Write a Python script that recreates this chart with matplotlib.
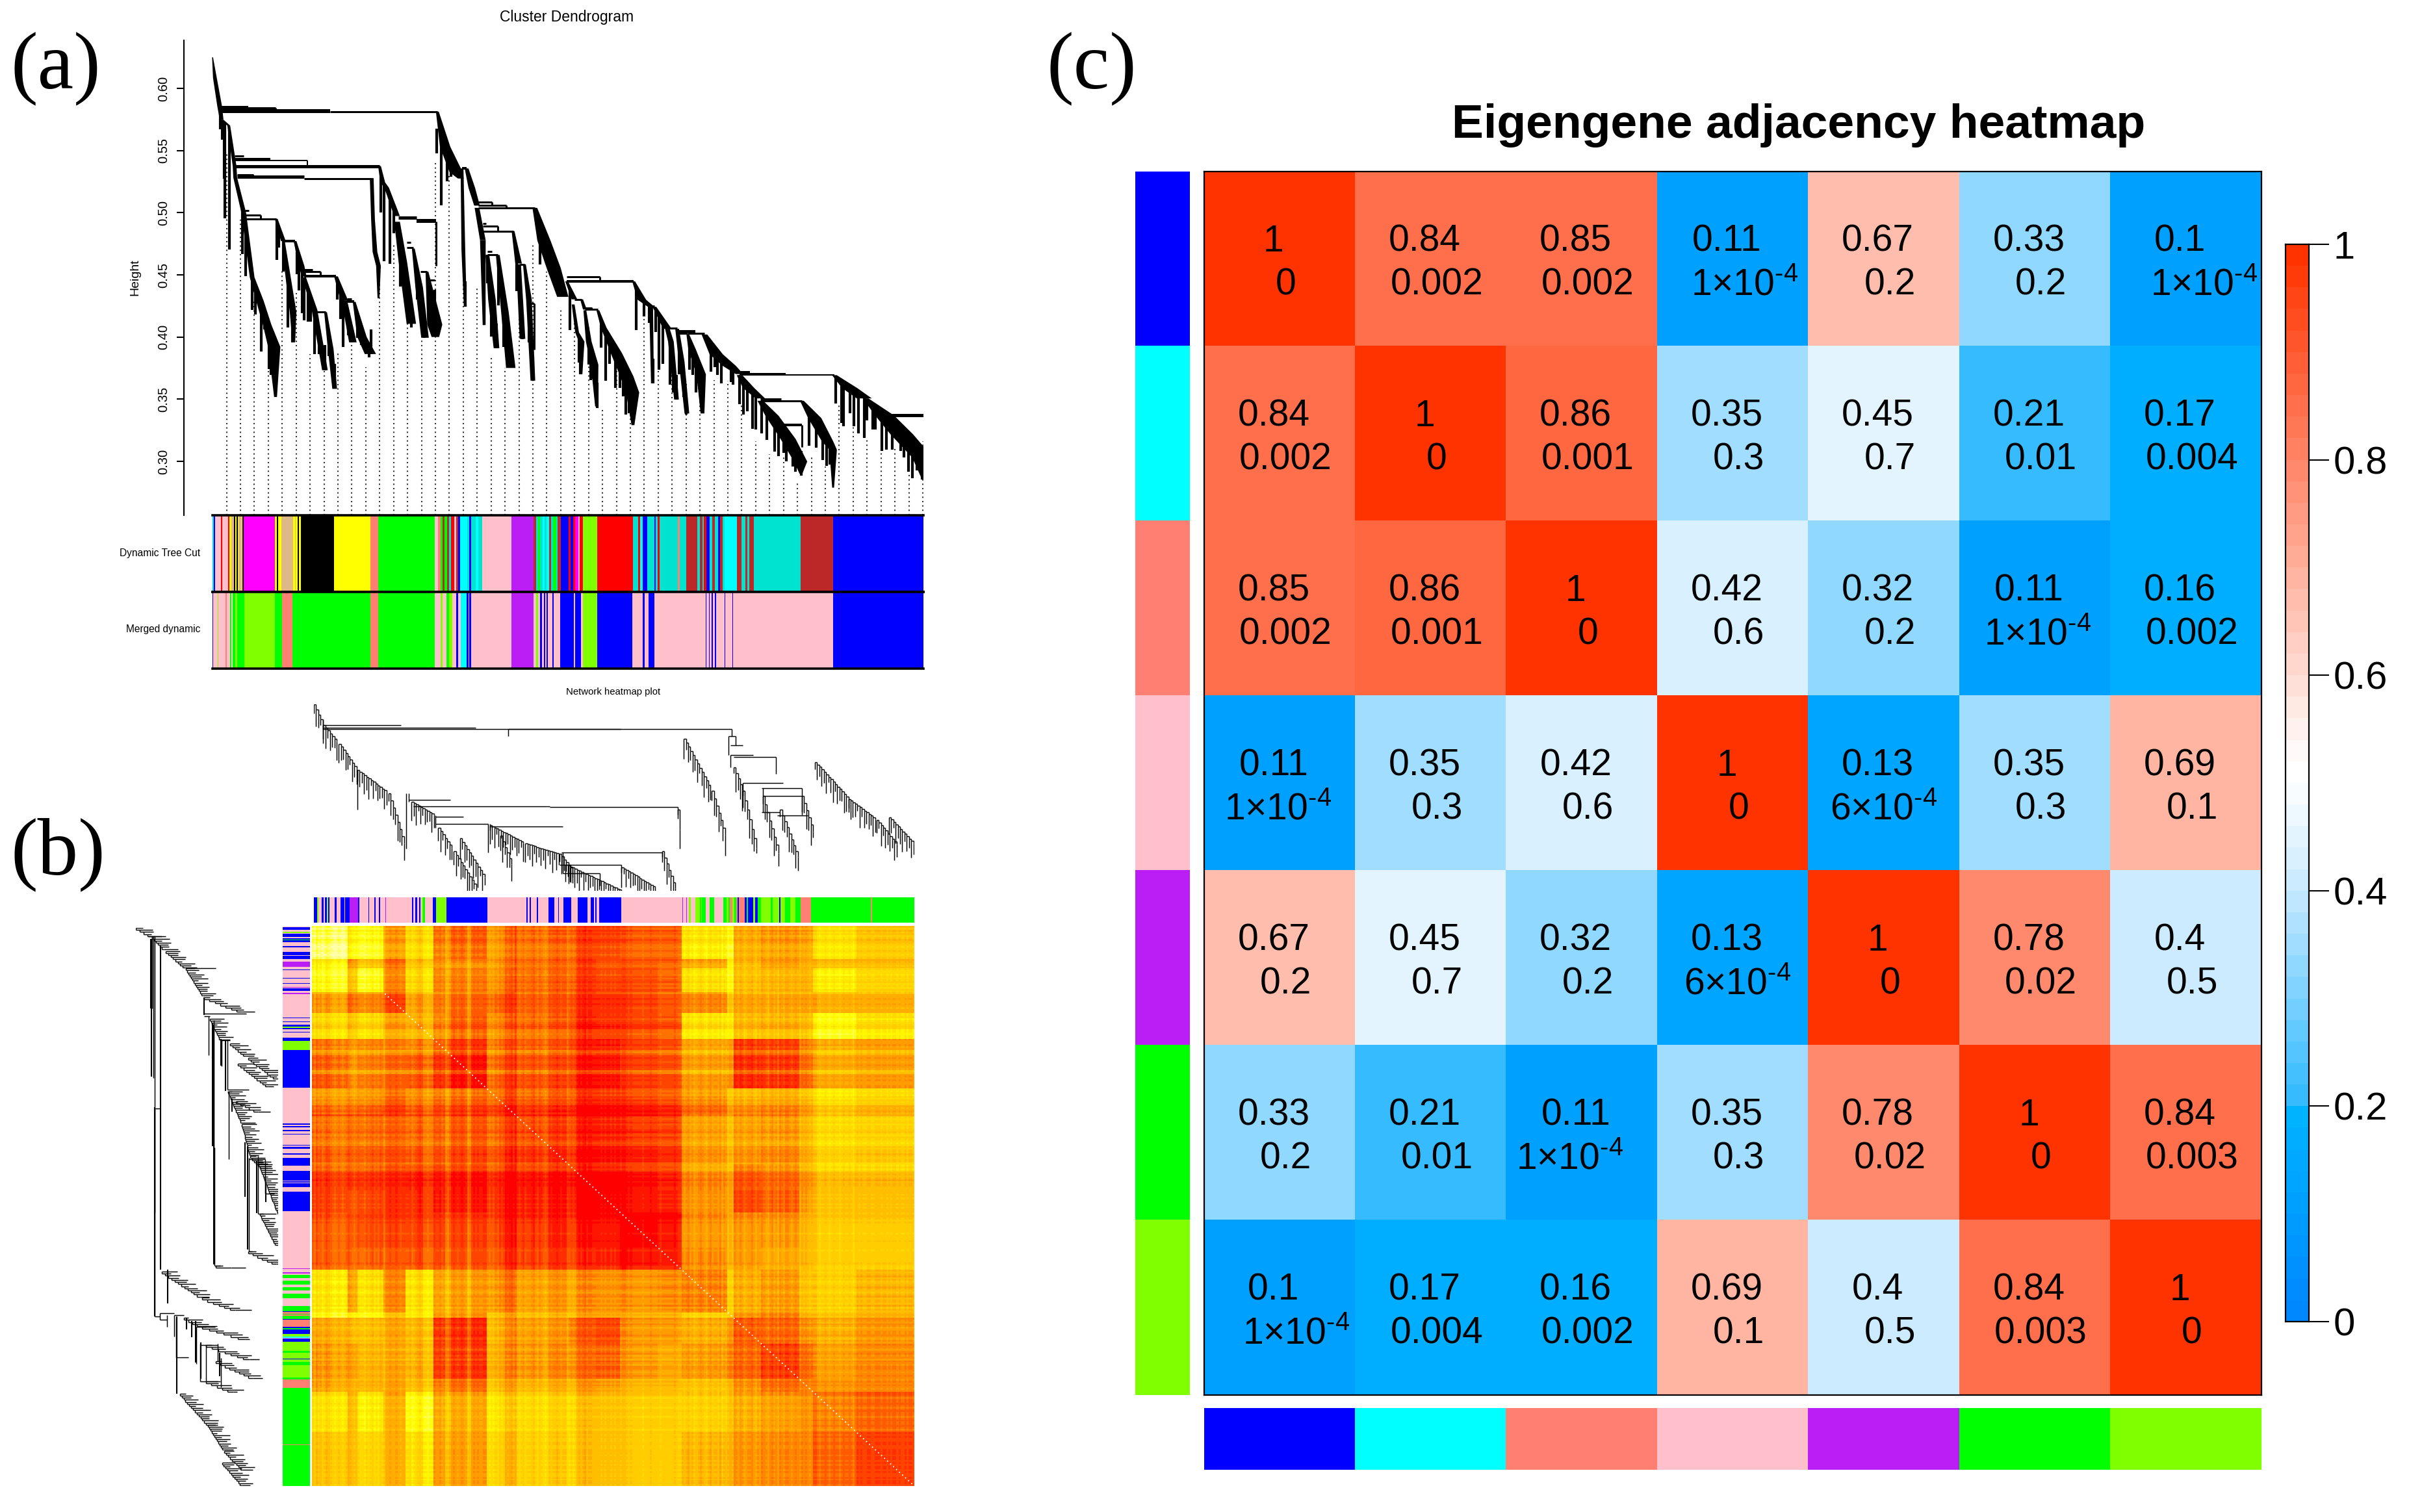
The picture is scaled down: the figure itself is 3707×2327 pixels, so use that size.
import numpy as np
import matplotlib
matplotlib.use("Agg")
import matplotlib.pyplot as plt
from matplotlib.colors import LinearSegmentedColormap, ListedColormap
from matplotlib.collections import LineCollection

plt.rcParams['font.family'] = ['Liberation Sans', 'DejaVu Sans']
plt.rcParams['mathtext.fontset'] = 'custom'
plt.rcParams['mathtext.rm'] = 'Liberation Sans'
plt.rcParams['mathtext.default'] = 'regular'

W, H = 3707, 2327
fig = plt.figure(figsize=(W / 100, H / 100), dpi=100, facecolor='white')

def axpx(x0, y0, x1, y1, **kw):
    return fig.add_axes([x0 / W, 1 - y1 / H, (x1 - x0) / W, (y1 - y0) / H], **kw)

def tpx(x, y, s, **kw):
    fig.text(x / W, 1 - y / H, s, **kw)

COL = dict(B='#0000FF', C='#00FFFF', S='#FF8072', P='#FFC0CB', U='#BB1EF5', G='#00FF00',
           H='#7FFF00', M='#FF00FF', N='#DEB887', K='#000000', Y='#FFFF00', R='#FF0000',
           T='#00E3D0', W='#BC2828')

# ---------------------------------------------------------------- panel a data
Y_TICKS = [0.30, 0.35, 0.40, 0.45, 0.50, 0.55, 0.60]

BRANCHES = [
    [(0.1, .625, 1), (3.7, .6084, 4), (10.9, .586, 5), (14, .5748, 4)],
    [(14, .5748, 4), (25, .5701, 3), (34, .5375, 4), (35, .5281, 4), (48, .5001, 5)],
    [(48, .5001, 5), (61, .448, 5), (73, .429, 8), (84, .41, 9), (95, .392, 13), (97, .3518, 3)],
    [(98, .4951, 3), (109, .4772, 5)],
    [(109, .4772, 3), (114, .457, 5), (124, .42, 7), (125, .3957, 3)],
    [(127, .4772, 3), (137, .4572, 6), (141, .4488, 5)],
    [(141, .4479, 4), (157, .4218, 6), (173, .3733, 6)],
    [(174, .42, 3), (182, .39, 6), (188, .3583, 5)],
    [(190, .4488, 4), (203, .4292, 8)],
    [(203, .4292, 6), (216, .3957, 8)],
    [(218, .4283, 3), (230, .40, 10), (243, .3863, 12)],
    [(245, .5278, 4), (247, .4945, 4), (250, .4684, 5), (255.4, .4572, 5), (255.4, .4311, 2)],
    [(257, .5375, 3), (262, .5244, 5), (268, .52, 5), (284, .4973, 6)],
    [(284, .4927, 6), (293, .46, 9), (306, .4106, 10)],
    [(309, .4712, 3), (318, .44, 8), (327, .3994, 8)],
    [(330, .4526, 3), (342, .41, 16), (343, .4, 8)],
    [(346, .5813, 3), (358, .553, 11), (375, .5325, 14), (382, .5275, 6)],
    [(384, .5356, 3), (386, .47, 4), (389, .4246, 3)],
    [(391, .5356, 4), (399, .52, 7), (407, .5057, 6)],
    [(407, .5039, 5), (416, .4779, 6)],
    [(416, .4779, 6), (418, .4096, 3)],
    [(423, .466, 4), (430, .43, 8), (437, .391, 6)],
    [(439, .466, 4), (450, .42, 8), (459, .3751, 10)],
    [(462.5, .4852, 3), (471, .4591, 7)],
    [(471, .4585, 5), (477, .3985, 6)],
    [(480, .4585, 3), (487, .43, 6), (493, .3649, 5)],
    [(496, .5039, 5), (510, .4776, 14), (525, .4555, 15), (539, .4323, 12)],
    [(545, .4448, 3), (557, .4303, 6)],
    [(555, .4262, 3), (561, .4038, 4), (568, .3963, 6), (567, .37, 3)],
    [(568, .4303, 3), (573, .4221, 4)],
    [(573, .4215, 3), (579, .3963, 6), (588, .3777, 8), (591, .3441, 3)],
    [(593, .4215, 3), (602, .4075, 6), (621.5, .3870, 12), (637.6, .3683, 14), (646.5, .3553, 14), (647, .3291, 3)],
    [(648, .4448, 3), (660.8, .4299, 9), (675, .4243, 7)],
    [(675, .4243, 4), (677, .3627, 3)],
    [(680, .4243, 4), (700, .4066, 9)],
    [(700, .4066, 5), (705.4, .3963, 6), (714, .3497, 5)],
    [(715, .4066, 4), (722, .38, 6), (730, .3385, 5)],
    [(731.5, .402, 3), (738, .39, 8), (752, .37, 10), (754, .3385, 4)],
    [(757, .402, 6), (775, .3862, 14), (795, .3769, 14), (811, .3702, 8)],
    [(811, .3693, 6), (825, .3590, 12), (843, .3506, 10)],
    [(843, .3487, 6), (861, .3366, 14), (885.7, .3180, 16), (905, .2998, 14), (905.5, .29, 3)],
    [(907, .3487, 4), (926.8, .3347, 14), (946.4, .3161, 12), (955, .3093, 8), (955, .2788, 2)],
    [(957, .3693, 5), (980.3, .3590, 16), (1003, .3506, 16)],
    [(1005, .3506, 6), (1034, .337, 20), (1060.7, .3217, 24), (1092.8, .303, 22), (1094, .2862, 4)],
]

JOINS = [
    (14, 55, .585, 4), (14, 96.5, .5841, 3), (14, 180.5, .5819, 6), (180.5, 346, .5813, 3),
    (34, 48, .5459, 3), (34, 89, .5431, 4), (34, 145.5, .5418, 2), (35, 257, .5375, 5),
    (37.6, 62.6, .5304, 3), (37.6, 141, .5287, 5), (141, 245, .5276, 3),
    (50, 55.5, .5016, 3), (50, 74.4, .4983, 3), (50, 98.3, .4951, 3), (109, 127, .4772, 4),
    (141, 153.7, .4544, 3), (141, 166, .4525, 3), (141, 190, .4488, 4), (159, 174, .42, 3),
    (207, 214, .4307, 3), (207, 218, .4285, 4), (286, 314, .4958, 5), (314, 343.6, .4935, 6),
    (299, 305, .4759, 3), (299, 309, .4718, 3), (320, 330, .4526, 3), (334, 342, .4457, 3),
    (384, 391, .5356, 4), (409, 430, .5085, 3), (409, 452, .5061, 3), (409, 496, .5041, 3),
    (416, 421, .4915, 3), (416, 439, .4893, 3), (416, 462.5, .4852, 3), (423, 430, .4688, 3),
    (423, 439, .466, 3), (473, 480, .4585, 3), (489, 495, .427, 3),
    (545, 596.5, .4482, 3), (545, 648, .4448, 4), (557, 568, .4303, 3), (573, 584, .4234, 3),
    (573, 593, .4221, 3), (675, 680, .4247, 3), (702, 715, .4071, 3), (716, 743, .4045, 4),
    (716, 731, .403, 3), (731, 757, .4029, 3), (811, 827, .3716, 4), (811, 882, .3701, 4),
    (811, 957, .3693, 2), (843, 875, .3502, 3), (843, 907, .3487, 3), (870, 907, .3295, 4),
    (1034, 1094.6, .337, 5), (1034, 1044.6, .3343, 3),
]
ARMS = [
    (96.5, .5841, .582, 3), (145.5, .5418, .5375, 2), (74.4, .4983, .4951, 3), (166, .4525, .449, 3),
    (343.6, .493, .4572, 3), (439, .4893, .4852, 3), (495, .427, .39, 3), (596.5, .4482, .4448, 3),
    (907, .3291, .3114, 3), (1094.6, .337, .3263, 3), (452, .5061, .5041, 3), (430, .5085, .5061, 3),
    (584, .4234, .4221, 2), (62.6, .5304, .5287, 2),
]
LEAF_RANK = [12, 15, 19, 18, 26, 46, 51, 61, 66, 75, 80, 87, 90, 97, 99, 102, 109, 116, 123, 130, 133, 138, 141,
             147, 151, 157, 164, 170, 173, 179, 188, 192, 197, 201, 209, 214, 223, 229, 236, 241, 244, 259, 264,
             273, 279, 289, 296, 306, 315, 321, 326, 334, 339, 342, 345, 352, 361, 367, 389, 418, 423, 429, 437,
             440, 448, 459, 468, 477, 487, 493, 504, 511, 550, 564, 566, 579, 582, 586, 592, 598, 605, 611, 620,
             627, 632, 636, 641, 647, 652, 664, 672, 678, 682, 687, 693, 704, 709, 714, 718, 725, 729, 734, 739,
             744, 749, 754, 767, 773, 777, 783, 798, 801, 811, 817, 823, 831, 836, 845, 853, 865, 871, 879, 883,
             893, 897, 906, 918, 929, 939, 945, 950, 959, 968, 971, 981, 987, 994, 1003, 1007, 1016, 1020, 1030,
             1037, 1046, 1059, 1064, 1071, 1077, 1084, 1092]
LEAF_HEIGHT = [.5673, .5589, .4955, .5272, .4703, .4666, .4488, .4218, .418, .3882, .4059, .3742, .3695, .3518,
               .4619, .4722, .4526, .4078, .3957, .4507, .4376, .419, .4134, .4124, .4124, .3863, .3863, .3789,
               .3733, .3845, .3583, .4302, .4143, .3919, .4012, .3957, .3994, .3938, .39, .3835, .3863, .5001,
               .461, .4591, .4834, .4404, .432, .4078, .4302, .4162, .3994, .4069, .4078, .418, .5477, .5057,
               .5253, .529, .4246, .4096, .4432, .4003, .391, .4255, .3919, .3751, .4367, .3985, .3957, .3649,
               .4582, .4675, .4057, .3795, .3702, .3777, .3655, .3665, .3431, .3917, .3646, .3786, .359, .359,
               .3525, .3375, .3385, .3291, .4057, .4168, .4112, .3627, .4038, .3739, .3786, .3618, .3553, .3497,
               .3702, .3515, .3375, .3739, .3693, .3553, .3581, .3385, .3721, .3758, .3693, .3627, .3637, .3618,
               .3459, .3375, .3403, .3263, .3254, .3226, .3170, .3077, .304, .3067, .3002, .2956, .2915, .2885,
               .3123, .3109, .3012, .2965, .2974, .3463, .331, .3282, .3385, .3282, .3226, .3189, .3329, .3254,
               .3254, .3086, .3096, .3096, .3086, .303, .2918, .2862, .2928, .2853]
GUIDE_TOP = [.5487, .4946, .4292, .3733, .4535, .4367, .3863, .3733, .3882, .3938, .376, .4572, .4759, .4236, .3994,
             .5412, .53, .5113, .4404, .3835, .3751, .4292, .4759, .4526, .4236, .4215, .4075, .3422, .3786, .3403,
             .4168, .4010, .3833, .3646, .3515, .3655, .3646, .3450, .3161, .3058, .3049, .2834, .303, .2956, .345,
             .3347, .3170, .317, .3105, .29, .3161]

DYN_STRIP = ("0T 2B 4.5P 13R 15P 24R 26Y 29.5N 33K 34.6Y 37K 39Y 40.5N 45Y 46.3K 48.5M 96Y 99K 101Y 105.7N 124Y 127N "
             "128.4Y 131.3K 133Y 136K 187Y 243S 255G 342.4P 347S 351G 354W 357G 361.5W 364.5T 367.4R 372P 375W 378.4B "
             "381.3C 392.3T 395B 398T 405.5C 409T 415P 460.5U 494W 498T 501G 504T 508C 511T 514C 518W 521T 524G 529T "
             "531.5W 536B 548.4R 551B 555.7R 558.7M 563P 565R 570H 592R 647T 655R 658C 662B 669T 680B 682.5T "
             "685.5R 688T 716S 719T 729.5W 746T 750W 754T 756R 760B 765T 769W 773T 778B 781W 785T 788C 807W 814.5T "
             "820W 823T 826W 833.6T 905.4W 955B").split()
MRG_STRIP = ("0B 1.5P 8H 9.5P 20S 22P 27G 29P 31G 35H 38G 49H 96G 107S 123G 243S 255G 342.4P 351H 354P 360G 363.7H "
             "369.6P 375B 378.4P 382C 391B 394P 395B 398P 460.5U 494P 498H 501P 504.5B 507P 510B 512P 514B 516.5P 523B "
             "525P 535B 556P 558B 567P 570H 592B 646.6P 662B 665P 671B 680P 759B 760P 764B 765P 768.6B 770P 773B 775P "
             "788B 789P 800.6B 801.3P 955B").split()

# ---------------------------------------------------------------- panel b data
COLUMN_STRIP = ("22B 30H 33P 41B 47P 50B 55H 58B 61P 74B 79P 89B 100P 102B 113U 135B 138P 160B 163P 175B 178P 187B 190P "
                "203U 205P 271B 275P 280B 284P 289B 293P 296H 300G 304P 324B 333H 358B 462P 561B 565P 570B 573P 588B "
                "591P 617B 632P 642B 645P 655B 676P 692B 717P 725B 733P 737B 740P 746B 802P 957U 960P 967U 970P 975H "
                "980P 990H 1002G 1005H 1007G 1017P 1027G 1038P 1061G 1070H 1075G 1079S 1085H 1090G 1094S 1098B 1102S "
                "1117B 1122G 1124B 1138H 1142B 1150G 1157H 1183G 1188H 1203B 1207H 1218G 1232H 1245G 1258S 1285G 1436S "
                "1439G").split()
ROW_STRIP = ("0P 2B 9P 14H 17P 20B 28P 32B 35G 38B 42P 54B 57P 70B 78P 80B 90P 96U 111P 117B 119P 140B 142P 155B 157P "
             "165U 168P 170B 177P 182U 185P 250B 252P 260B 262P 270B 274H 278B 281P 288B 291P 304B 313H 339B 443P "
             "541B 543P 548B 550P 558B 562P 569B 571P 599B 601P 605B 610P 623B 626P 635B 656P 671B 697P 699B 702P "
             "705B 715P 728B 781P 938U 940P 948U 952P 955G 964P 972G 982P 989G 999P 1007G 1020P 1041G 1055B 1058S "
             "1062G 1065S 1068G 1076B 1079S 1098B 1102G 1106B 1118H 1125C 1128P 1130B 1139H 1164G 1170H 1186B 1188H "
             "1195G 1203H 1237G 1242S 1266G 1270G 1421S 1423G").split()
HEAT_TOTAL = 1527
HEAT_EDGES = [0, 90, 115, 183, 238, 307, 345, 442, 515, 648, 720, 782, 875, 937, 1053, 1070, 1140, 1235, 1270, 1380, 1527]
HEAT_LEVEL = [
 [.10,.30,.20,.60,.35,.65,.70,.60,.72,.80,.80,.72,.72,.30,.20,.55,.60,.55,.35,.45],
 [.22,.60,.30,.70,.40,.60,.65,.60,.75,.82,.78,.80,.75,.55,.30,.50,.60,.55,.45,.50],
 [.20,.60,.20,.65,.35,.60,.65,.60,.75,.85,.80,.80,.75,.35,.20,.50,.50,.50,.30,.40],
 [.55,.70,.60,.80,.55,.65,.70,.72,.75,.85,.85,.80,.75,.65,.45,.55,.55,.55,.50,.55],
 [.35,.50,.35,.55,.50,.60,.70,.60,.70,.85,.85,.80,.75,.30,.30,.50,.50,.45,.25,.35],
 [.65,.60,.65,.65,.65,.70,.82,.70,.72,.85,.88,.80,.75,.55,.55,.80,.80,.65,.55,.60],
 [.70,.55,.65,.70,.72,.82,.88,.72,.75,.88,.88,.80,.75,.55,.55,.85,.82,.70,.55,.60],
 [.65,.65,.70,.78,.72,.72,.75,.78,.78,.88,.88,.82,.78,.65,.55,.55,.55,.50,.42,.50],
 [.68,.68,.68,.75,.72,.75,.78,.78,.82,.90,.90,.85,.80,.55,.50,.60,.60,.50,.40,.45],
 [.80,.78,.78,.85,.85,.90,.90,.88,.90,.98,.98,.90,.85,.60,.55,.75,.70,.60,.50,.50],
 [.80,.75,.78,.85,.85,.90,.92,.90,.90,.98,.98,.92,.88,.60,.55,.82,.75,.60,.50,.50],
 [.78,.72,.78,.82,.80,.82,.82,.88,.88,.94,.94,.97,.92,.60,.55,.62,.60,.50,.45,.45],
 [.75,.70,.72,.75,.75,.78,.78,.82,.85,.88,.88,.92,.90,.62,.55,.60,.55,.50,.42,.42],
 [.30,.55,.32,.62,.35,.55,.58,.62,.60,.62,.62,.62,.62,.65,.40,.55,.60,.45,.40,.50],
 [.20,.20,.20,.40,.25,.60,.60,.40,.42,.50,.55,.45,.45,.35,.40,.60,.65,.50,.45,.50],
 [.50,.50,.45,.55,.45,.82,.82,.55,.55,.72,.78,.60,.55,.50,.60,.75,.72,.60,.55,.60],
 [.55,.55,.50,.55,.50,.80,.80,.60,.60,.68,.72,.58,.52,.55,.65,.72,.82,.70,.60,.65],
 [.55,.50,.50,.55,.45,.65,.68,.50,.50,.55,.55,.50,.48,.45,.50,.60,.70,.65,.60,.65],
 [.30,.50,.25,.55,.20,.50,.50,.30,.35,.40,.40,.38,.38,.40,.45,.50,.55,.60,.65,.72],
 [.42,.45,.35,.50,.30,.55,.55,.35,.38,.42,.42,.40,.42,.50,.50,.60,.62,.65,.72,.82],
]
STRIPES = ("5364534654323432345432343324345343543" "6676676566" "223" "123" "454" "11011" "877867" "324"
           "78767876" "23" "78787788" "101021323" "656756" "2123122" "3421321" "01" "434454344" "11212"
           "5656756655" "6656566565665" "66545" "4444434445444434444445433" "7678675678765786776857678"
           "787687567786576876578675" "8768876787687876788" "6566765676656766765"
           "787877887788878878788787787887")

TREE_COMB = [
    (0, 0, 15, 40), (15, 40, 40, 75), (40, 75, 70, 125), (70, 125, 120, 170), (120, 170, 148, 275),
    (157, 185, 195, 212), (200, 235, 225, 280), (225, 280, 262, 350), (235, 255, 275, 330), (283, 230, 340, 265),
    (340, 265, 395, 285), (300, 250, 320, 310), (395, 285, 420, 320), (405, 305, 495, 355), (495, 310, 550, 350),
    (560, 280, 583, 355), (585, 200, 592, 275), (595, 65, 640, 165), (640, 165, 662, 250), (675, 120, 690, 165),
    (690, 165, 715, 290), (722, 175, 750, 295), (750, 200, 780, 295), (785, 175, 805, 250), (806, 110, 860, 180),
    (860, 180, 905, 220), (905, 220, 940, 270), (925, 215, 965, 265),
]
TREE_H = [(15, 140, 40), (15, 260, 44), (15, 493, 47), (313, 672, 47), (667, 678, 60), (670, 690, 78), (670, 707, 96),
          (675, 743, 100), (153, 220, 182), (160, 380, 194), (380, 585, 196), (195, 240, 214), (195, 280, 228),
          (283, 400, 232), (398, 560, 282), (395, 495, 305), (400, 460, 322), (690, 755, 150), (720, 785, 160),
          (722, 785, 175), (720, 750, 205), (745, 795, 212)]
TREE_V = [(672, 47, 60), (667, 60, 96), (678, 60, 78), (313, 47, 60), (743, 100, 132), (585, 196, 210), (70, 125, 200),
          (148, 170, 275), (280, 228, 282), (560, 282, 300), (495, 305, 320), (15, 30, 47), (195, 212, 235),
          (670, 96, 120), (690, 150, 175), (722, 160, 205), (785, 160, 210), (400, 282, 322), (283, 228, 240),
          (460, 322, 345), (153, 170, 185)]
# lines that survive only in the rotated copy of the tree: (depth, rank from, rank to)
SIDE_STEMS = [(62, 31, 592), (170, 120, 151), (191, 164, 378), (195, 170, 582), (213, 192, 238), (223, 195, 282),
              (240, 296, 318), (272, 371, 466), (279, 378, 557), (302, 403, 494), (325, 440, 475), (102, 673, 806),
              (127, 676, 695), (140, 680, 708), (149, 680, 752), (162, 717, 780), (209, 736, 776), (39, 19, 258),
              (38, 19, 140), (47, 310, 672), (80, 592, 650)]
TOOTH = "375184692637481592743865192746385917264385"

# ---------------------------------------------------------------- panel c data
MODULE_COLOURS = ['B', 'C', 'S', 'P', 'U', 'G', 'H']
ADJ = [[1, .84, .85, .11, .67, .33, .1],
       [.84, 1, .86, .35, .45, .21, .17],
       [.85, .86, 1, .42, .32, .11, .16],
       [.11, .35, .42, 1, .13, .35, .69],
       [.67, .45, .32, .13, 1, .78, .4],
       [.33, .21, .11, .35, .78, 1, .84],
       [.1, .17, .16, .69, .4, .84, 1]]
PVAL = [['0', '0.002', '0.002', '1e-4', '0.2', '0.2', '1e-4'],
        ['0.002', '0', '0.001', '0.3', '0.7', '0.01', '0.004'],
        ['0.002', '0.001', '0', '0.6', '0.2', '1e-4', '0.002'],
        ['1e-4', '0.3', '0.6', '0', '6e-4', '0.3', '0.1'],
        ['0.2', '0.7', '0.2', '6e-4', '0', '0.02', '0.5'],
        ['0.2', '0.01', '1e-4', '0.3', '0.02', '0', '0.003'],
        ['1e-4', '0.004', '0.002', '0.1', '0.5', '0.003', '0']]
COLORBAR_TICKS = [0, .2, .4, .6, .8, 1]

# ---------------------------------------------------------------- panel a
ax = axpx(283, 62, 1421, 793)
ax.set_xlim(-44, 1094)
ax.set_ylim(.2566, .6387)
for s in ('top', 'right', 'bottom'):
    ax.spines[s].set_visible(False)
ax.spines['left'].set_linewidth(1.5)
ax.set_xticks([])
ax.set_yticks(Y_TICKS)
ax.set_yticklabels(['%.2f' % v for v in Y_TICKS], rotation=90, va='center', fontsize=14.5)
ax.tick_params(axis='y', length=8, width=1.5, pad=8)
ax.patch.set_alpha(0)
guide_x = np.linspace(21.6, 1093, len(GUIDE_TOP))
ax.vlines(guide_x, .2566, GUIDE_TOP, colors='#333333', linewidth=1.5, linestyles=(0, (1, 2.2)), zorder=1)
for b in BRANCHES:
    a = np.array(b)
    t = a[:, 2] * 1.45
    ax.fill(np.r_[a[:, 0] - t / 2, (a[:, 0] + t / 2)[::-1]], np.r_[a[:, 1], a[:, 1][::-1]],
            color='k', lw=0, zorder=3)
for r0, r1, h, lw in JOINS:
    ax.plot([r0, r1], [h, h], color='k', lw=lw * .72, solid_capstyle='butt', zorder=3)
for r, h0, h1, lw in ARMS:
    ax.plot([r, r], [h0, h1], color='k', lw=lw * .72, solid_capstyle='butt', zorder=3)
for r, low in zip(LEAF_RANK, LEAF_HEIGHT):
    tops = []
    for b in BRANCHES:
        a = np.array(b)
        if a[0, 0] <= r <= a[-1, 0] and a[-1, 0] > a[0, 0]:
            v = np.interp(r, a[:, 0], a[:, 1])
            if v > low:
                tops.append(v)
    top_h = min(tops) if tops else low + .02
    ax.plot([r, r], [top_h, low], color='k', lw=3.0, solid_capstyle='butt', zorder=2)

tpx(872, 26, 'Cluster Dendrogram', ha='center', va='center', fontsize=16.5)
tpx(208, 427, 'Height', ha='center', va='center', rotation=90, fontsize=14)
tpx(308, 851, 'Dynamic Tree Cut', ha='right', va='center', fontsize=11.2)
tpx(308, 969, 'Merged dynamic', ha='right', va='center', fontsize=11.2)
tpx(944, 1065, 'Network heatmap plot', ha='center', va='center', fontsize=10.7)

def strip(ax, items, end, offset=0, vertical=False):
    starts = np.array([float(i[:-1]) for i in items]) - offset
    keys = [i[-1] for i in items]
    edges = np.r_[starts, end - offset]
    cols = [COL[k] for k in keys]
    if vertical:
        ax.barh(edges[:-1], 1, height=np.diff(edges), left=0, align='edge', color=cols, linewidth=0, antialiased=False)
        ax.set_ylim(edges[-1], edges[0])
        ax.set_xlim(0, 1)
    else:
        ax.bar(edges[:-1], 1, width=np.diff(edges), bottom=0, align='edge', color=cols, linewidth=0, antialiased=False)
        ax.set_xlim(edges[0], edges[-1])
        ax.set_ylim(0, 1)
    ax.set_axis_off()

a1 = axpx(327, 793, 1421, 911)
strip(a1, DYN_STRIP, 1094.5)
a2 = axpx(327, 911, 1421, 1029)
strip(a2, MRG_STRIP, 1094.5)
for a_ in (a1, a2):
    a_.axhline(1, color='k', lw=2.6, clip_on=False)
    a_.axhline(0, color='k', lw=2.6, clip_on=False)

# ---------------------------------------------------------------- panel b
tree_seg = []
for r0, d0, r1, d1 in TREE_COMB:
    rr = np.arange(r0, r1 + .1, 3.6)
    dd = d0 + (rr - r0) * (d1 - d0) / max(r1 - r0, 1)
    for i in range(len(rr) - 1):
        tree_seg.append([(rr[i], dd[i]), (rr[i + 1], dd[i])])
        tree_seg.append([(rr[i + 1], dd[i]), (rr[i + 1], dd[i + 1])])
    for i, (r, d) in enumerate(zip(rr, dd)):
        t = int(TOOTH[(i + int(r0)) % len(TOOTH)])
        tree_seg.append([(r, d), (r, d + 7 + t * 3.6)])
for r0, r1, d in TREE_H:
    tree_seg.append([(r0, d), (r1, d)])
for r, d0, d1 in TREE_V:
    tree_seg.append([(r, d0), (r, d1)])

top = axpx(483, 1084, 1407, 1371)
top.add_collection(LineCollection(tree_seg, colors='k', linewidths=1.05))
top.set_xlim(0, 966)
top.set_ylim(355, 0)
top.set_axis_off()

left = axpx(209, 1428, 428, 2287)
left.add_collection(LineCollection([[(p[1], p[0]) for p in s] for s in tree_seg], colors='k', linewidths=1.05))
left.add_collection(LineCollection([[(d, r0), (d, r1)] for d, r0, r1 in SIDE_STEMS], colors='k', linewidths=1.5))
left.set_xlim(0, 355)
left.set_ylim(966, 0)
left.set_axis_off()

c1 = axpx(483, 1381, 1407, 1420)
strip(c1, COLUMN_STRIP, 1547)
r1_ = axpx(435, 1426, 477, 2287)
strip(r1_, ROW_STRIP, 1535, vertical=True)

heat = axpx(480, 1425, 1407, 2287)
lev = (np.array(HEAT_LEVEL) + np.array(HEAT_LEVEL).T) / 2
st = np.array([int(c) for c in STRIPES], float)
cent = (np.arange(len(st)) + .5) * HEAT_TOTAL / len(st)
band = np.clip(np.searchsorted(HEAT_EDGES, cent) - 1, 0, len(HEAT_EDGES) - 2)
dev = st.copy()
for b in range(len(HEAT_EDGES) - 1):
    if np.any(band == b):
        dev[band == b] -= st[band == b].mean()
tom = lev[np.ix_(band, band)] + dev[:, None] * .032 + dev[None, :] * .032
heat_cmap = LinearSegmentedColormap.from_list(
    'tom', [(0, '#FFFFA8'), (.2, '#FFFF00'), (.45, '#FFC400'), (.6, '#FF9900'), (.78, '#FF5500'), (1, '#FF0000')], N=18)
heat.imshow(tom, cmap=heat_cmap, vmin=0, vmax=1, extent=(0, HEAT_TOTAL, HEAT_TOTAL, 0), aspect='auto',
            interpolation='nearest')
heat.plot([185, HEAT_TOTAL], [185, HEAT_TOTAL], color='white', lw=1.3, ls=(0, (1, 2.5)))
heat.set_xlim(0, HEAT_TOTAL)
heat.set_ylim(HEAT_TOTAL, 0)
heat.set_axis_off()

# ---------------------------------------------------------------- panel c
adj_cmap = LinearSegmentedColormap.from_list(
    'adj', [(0, '#0088FF'), (.185, '#00B4FF'), (.2, '#33BBFF'), (.4, '#C9EAFF'), (.5, '#FFFFFF'), (.52, '#FFFFFF'),
            (1, '#FF3300')], N=50)
hm = axpx(1853, 264, 3480, 2147)
hm.imshow(np.array(ADJ), cmap=adj_cmap, vmin=0, vmax=1, extent=(0, 7, 7, 0), aspect='auto', interpolation='nearest')
hm.set_xticks([])
hm.set_yticks([])
for s in hm.spines.values():
    s.set_linewidth(1.6)
SCI_SHIFT = {(0, 3): .04, (0, 6): .08, (2, 5): -.02, (3, 0): -.05, (3, 4): -.04, (4, 3): -.01, (5, 2): -.12, (6, 0): .07}
for i in range(7):
    for j in range(7):
        v = ADJ[i][j]
        p = PVAL[i][j]
        hm.text(j + .46, i + .40, ('%g' % v), ha='center', va='center', fontsize=41)
        label = p
        dx = 0
        if 'e' in p:
            m, e = p.split('e')
            label = m + r'×10$^{\text{' + e + '}}$'
            dx = SCI_SHIFT.get((i, j), 0)
        hm.text(j + .54 + dx, i + .65, label, ha='center', va='center', fontsize=41)

lc = axpx(1747, 264, 1831, 2147)
lc.imshow([[i] for i in range(7)], cmap=ListedColormap([COL[k] for k in MODULE_COLOURS]), aspect='auto',
          extent=(0, 1, 7, 0), interpolation='nearest')
lc.set_axis_off()
bc = axpx(1853, 2167, 3480, 2262)
bc.imshow([list(range(7))], cmap=ListedColormap([COL[k] for k in MODULE_COLOURS]), aspect='auto',
          extent=(0, 7, 1, 0), interpolation='nearest')
bc.set_axis_off()

cb = axpx(3517, 376, 3553, 2034)
cb.imshow((np.arange(50)[::-1, None] + .5) / 50, cmap=adj_cmap, vmin=0, vmax=1, aspect='auto', extent=(0, 1, 0, 1),
          interpolation='nearest')
cb.set_xticks([])
cb.yaxis.tick_right()
cb.set_yticks(COLORBAR_TICKS)
cb.set_yticklabels(['%g' % t for t in COLORBAR_TICKS], fontsize=43)
cb.tick_params(axis='y', length=22, width=1.5, pad=5)
for s in cb.spines.values():
    s.set_linewidth(1.6)

tpx(2768, 193, 'Eigengene adjacency heatmap', ha='center', va='center', fontsize=52.8, fontweight='bold')

for x, y, s in [(17, 106, '(a)'), (17, 1315, '(b)'), (1611, 106, '(c)')]:
    tpx(x, y, s, ha='left', va='center', fontsize=90, family='Liberation Serif')

fig.savefig('out.png', dpi=100, facecolor='white')
